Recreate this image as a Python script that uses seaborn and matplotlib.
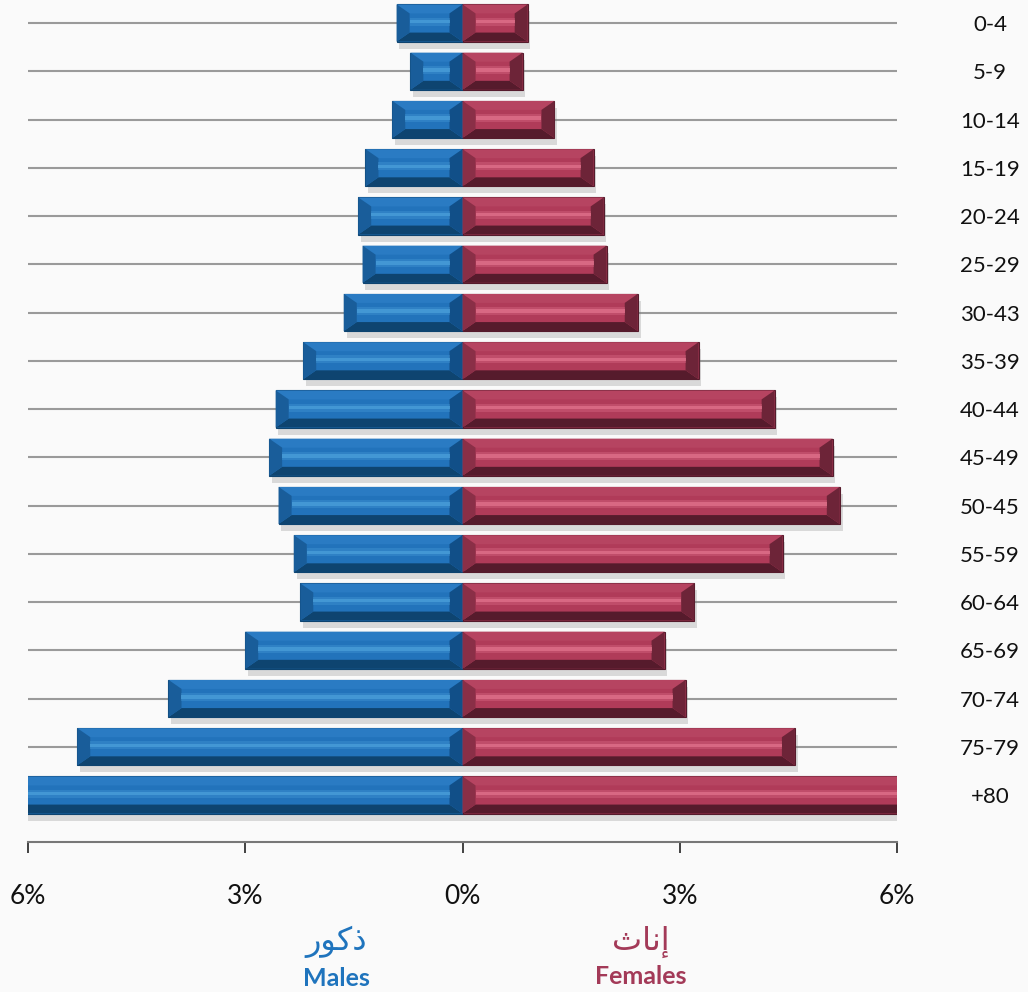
import numpy as np
import pandas as pd
import matplotlib
matplotlib.use('Agg')
import matplotlib.pyplot as plt
import matplotlib.patheffects as pe
from matplotlib.patches import Polygon
import seaborn as sns

# === Dados (percentual da população por faixa etária)
ages = ['0-4', '5-9', '10-14', '15-19', '20-24', '25-29', '30-43', '35-39', '40-44',
        '45-49', '50-45', '55-59', '60-64', '65-69', '70-74', '75-79', '+80']
males = [0.91, 0.72, 0.97, 1.34, 1.44, 1.38, 1.64, 2.20, 2.58,
         2.67, 2.54, 2.33, 2.24, 3.00, 4.06, 5.32, 6.50]
females = [0.90, 0.83, 1.27, 1.81, 1.95, 1.99, 2.42, 3.26, 4.31,
           5.11, 5.21, 4.42, 3.20, 2.79, 3.08, 4.59, 6.50]
xticks = [-6, -3, 0, 3, 6]
xtick_labels = ['6%', '3%', '0%', '3%', '6%']

df = pd.DataFrame({'idade': ages, 'homens': [-m for m in males], 'mulheres': females})

# === Cores (face, faixa clara, topo, base, lado externo, lado interno)
azul = dict(face='#2273bb', light='#4a9ed9', top='#2a7bc3', bottom='#0e4470',
            outer='#195d9a', inner='#114f88')
vinho = dict(face='#b03b59', light='#e0718b', top='#b64461', bottom='#561b2c',
             outer='#6d2438', inner='#8a2f47')

sns.set_style('white')
plt.rcParams['font.family'] = ['Lato', 'DejaVu Sans']

W, H = 1028, 992
fig = plt.figure(figsize=(W / 100, H / 100), dpi=100, facecolor='#fafafa')
ax = fig.add_axes([28 / W, 1 - 842 / H, (897 - 28) / W, 842 / H])
ax.set_facecolor('none')

bar_h = 0.77
sns.barplot(data=df, x='homens', y='idade', orient='h', color=azul['face'],
            width=bar_h, saturation=1, ax=ax, zorder=3)
sns.barplot(data=df, x='mulheres', y='idade', orient='h', color=vinho['face'],
            width=bar_h, saturation=1, ax=ax, zorder=3)

ax.set_xlim(-6, 6)
ax.set_ylim(16 + 47 / 48.25, -23 / 48.25)

# === Efeito de bisel em cada barra
px_x = ax.bbox.width / 12
px_y = ax.bbox.height / (16 + 47 / 48.25 + 23 / 48.25)
dx = 13 / px_x
dy = 9 / px_y

for p in ax.patches:
    x0, y0 = p.get_x(), p.get_y()
    x1, y1 = x0 + p.get_width(), y0 + p.get_height()
    cor = azul if p.get_width() < 0 else vinho
    masc = p.get_width() < 0
    if masc:
        x0, x1 = x1, x0
    p.set_edgecolor(cor['bottom'])
    p.set_linewidth(0.8)
    p.set_path_effects([pe.SimplePatchShadow(offset=(2, -5), shadow_rgbFace='#777777', alpha=0.25),
                        pe.Normal()])
    left_c = cor['outer'] if masc else cor['inner']
    right_c = cor['inner'] if masc else cor['outer']
    faces = [
        ([(x0, y0), (x1, y0), (x1 - dx, y0 + dy), (x0 + dx, y0 + dy)], cor['top']),
        ([(x0, y1), (x1, y1), (x1 - dx, y1 - dy), (x0 + dx, y1 - dy)], cor['bottom']),
        ([(x0, y0), (x0 + dx, y0 + dy), (x0 + dx, y1 - dy), (x0, y1)], left_c),
        ([(x1, y0), (x1 - dx, y0 + dy), (x1 - dx, y1 - dy), (x1, y1)], right_c),
    ]
    for pts, c in faces:
        ax.add_patch(Polygon(pts, closed=True, facecolor=c, edgecolor='none', zorder=4))
    # faixa clara no meio da face (gradiente simples)
    inner_h = y1 - y0 - 2 * dy
    for frac0, frac1, a in [(0.22, 0.34, 0.35), (0.34, 0.52, 0.85), (0.52, 0.64, 0.35)]:
        ya, yb = y0 + dy + inner_h * frac0, y0 + dy + inner_h * frac1
        ax.add_patch(Polygon([(x0 + dx, ya), (x1 - dx, ya), (x1 - dx, yb), (x0 + dx, yb)],
                             closed=True, facecolor=cor['light'], edgecolor='none',
                             zorder=4, alpha=a))

# === Grade e eixos
ax.set_axisbelow(True)
for i in range(len(ages)):
    ax.axhline(i, color='#9a9a9a', lw=1.5, zorder=1)

for s in ['top', 'left', 'right']:
    ax.spines[s].set_visible(False)
ax.spines['bottom'].set_color('#777777')
ax.spines['bottom'].set_linewidth(1.5)

ax.set_xticks(xticks)
ax.set_xticklabels(xtick_labels, fontsize=19, color='#111111')
ax.tick_params(axis='x', bottom=True, direction='out', length=8, width=1.3,
               color='#333333', pad=22)

ax.yaxis.tick_right()
ax.set_yticks(range(len(ages)))
ax.set_yticklabels(ages, fontsize=16, color='#111111', ha='center')
ax.tick_params(axis='y', length=0, pad=67)
ax.set_xlabel('')
ax.set_ylabel('')

# === Legenda manual (árabe em formas de apresentação)
ar_font = ['DejaVu Sans']
fig.text(336 / W, 1 - 942 / H, '\uFEAD\uFEEE\uFEDB\uFEAB', color='#1f74bd', fontsize=23,
         ha='center', va='center', family=ar_font)
fig.text(336 / W, 1 - 978 / H, 'Males', color='#1f74bd', fontsize=18, fontweight='bold',
         ha='center', va='center')
fig.text(641 / W, 1 - 942 / H, '\uFE99\uFE8E\uFEE7\uFE87', color='#a33a58', fontsize=23,
         ha='center', va='center', family=ar_font)
fig.text(641 / W, 1 - 977 / H, 'Females', color='#a33a58', fontsize=18, fontweight='bold',
         ha='center', va='center')

fig.savefig('out.png', dpi=100, facecolor=fig.get_facecolor())
